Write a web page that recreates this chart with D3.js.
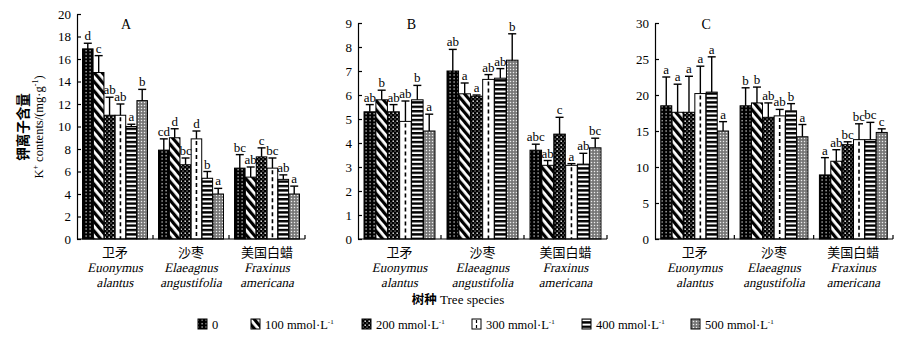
<!DOCTYPE html>
<html>
<head>
<meta charset="utf-8">
<script src="https://cdn.jsdelivr.net/npm/d3@7"></script>
<style>
  body { margin: 0; background: #fff; }
  svg { display: block; }
  text { font-family: "Liberation Serif", "DejaVu Serif", serif; fill: #000; }
  .cn { font-family: "Noto Sans CJK SC", sans-serif; }
</style>
</head>
<body>
<div id="chart"></div>
<script>
// K+ contents of three tree species under six NaCl treatments
const categories = ["卫矛", "沙枣", "美国白蜡"];
const latinNames = [["Euonymus", "alantus"], ["Elaeagnus", "angustifolia"], ["Fraxinus", "americana"]];
const treatments = ["0", "100", "200", "300", "400", "500"];

// panel A (rows = species, cols = treatments)
const aMeans = [[16.9, 14.8, 11.0, 11.0, 10.0, 12.3], [7.9, 9.0, 6.6, 8.9, 5.4, 4.0], [6.3, 5.5, 7.3, 6.3, 5.3, 4.0]];
const aSE = [[0.5, 1.5, 1.6, 1.0, 0.2, 1.0], [1.0, 0.8, 0.6, 0.7, 0.6, 0.5], [1.2, 0.9, 0.8, 0.9, 0.4, 0.7]];
const aLetters = [["d", "c", "ab", "ab", "a", "b"], ["cd", "d", "bc", "d", "b", "a"], ["bc", "ab", "c", "bc", "ab", "a"]];

// panel B
const bMeans = [[5.3, 5.8, 5.3, 4.9, 5.8, 4.5], [7.0, 6.05, 5.95, 6.65, 6.7, 7.45], [3.7, 3.07, 4.37, 3.07, 3.12, 3.8]];
const bSE = [[0.3, 0.4, 0.3, 0.85, 0.6, 0.7], [0.9, 0.45, 0.05, 0.2, 0.4, 1.1], [0.25, 0.2, 0.7, 0.07, 0.45, 0.4]];
const bLetters = [["ab", "b", "ab", "ab", "b", "a"], ["ab", "a", "a", "ab", "ab", "b"], ["abc", "ab", "c", "a", "ab", "bc"]];

// panel C
const cMeans = [[18.5, 17.6, 17.6, 20.2, 20.4, 15.0], [18.5, 18.9, 16.9, 17.1, 17.8, 14.2], [8.9, 10.8, 13.1, 13.8, 13.8, 14.8]];
const cSE = [[4.0, 3.9, 5.0, 3.8, 4.9, 1.3], [2.5, 2.2, 2.0, 0.9, 1.0, 1.7], [2.4, 1.6, 0.4, 2.2, 2.4, 0.5]];
const cLetters = [["a", "a", "a", "a", "a", "a"], ["b", "b", "ab", "ab", "b", "a"], ["a", "ab", "bc", "bc", "bc", "c"]];

const yTicksA = d3.range(0, 21, 2);
const yTicksB = d3.range(0, 10, 1);
const yTicksC = d3.range(0, 31, 5);

const panels = [
  { name: "A", means: aMeans, se: aSE, letters: aLetters, ticks: yTicksA, left: 77, right: 305, top: 14 },
  { name: "B", means: bMeans, se: bSE, letters: bLetters, ticks: yTicksB, left: 358, right: 607, top: 23 },
  { name: "C", means: cMeans, se: cSE, letters: cLetters, ticks: yTicksC, left: 655, right: 893, top: 23 }
];
const bottom = 239;

const svg = d3.select("#chart").append("svg")
  .attr("width", 915).attr("height", 339);

// fill patterns, one per treatment
const defs = svg.append("defs");
const p0 = defs.append("pattern").attr("id", "pat0").attr("patternUnits", "userSpaceOnUse").attr("width", 4).attr("height", 3.5);
p0.append("rect").attr("width", 4).attr("height", 3.5).attr("fill", "#000");
p0.append("rect").attr("x", 1.5).attr("y", 1).attr("width", 1.2).attr("height", 1.2).attr("fill", "#fff");

const p1 = defs.append("pattern").attr("id", "pat1").attr("patternUnits", "userSpaceOnUse")
  .attr("width", 6).attr("height", 6).attr("patternTransform", "rotate(-40)");
p1.append("rect").attr("width", 6).attr("height", 6).attr("fill", "#fff");
p1.append("rect").attr("width", 3.2).attr("height", 6).attr("fill", "#000");

const p2 = defs.append("pattern").attr("id", "pat2").attr("patternUnits", "userSpaceOnUse").attr("width", 4).attr("height", 4);
p2.append("rect").attr("width", 4).attr("height", 4).attr("fill", "#000");
p2.append("rect").attr("x", 0.5).attr("y", 0.5).attr("width", 1.4).attr("height", 1.4).attr("fill", "#fff");
p2.append("rect").attr("x", 2.5).attr("y", 2.5).attr("width", 1.1).attr("height", 1.1).attr("fill", "#bbb");

const p3 = defs.append("pattern").attr("id", "pat3").attr("patternUnits", "userSpaceOnUse").attr("width", 4).attr("height", 4);
p3.append("rect").attr("width", 4).attr("height", 4).attr("fill", "#fff");

const p4 = defs.append("pattern").attr("id", "pat4").attr("patternUnits", "userSpaceOnUse").attr("width", 4).attr("height", 4.4);
p4.append("rect").attr("width", 4).attr("height", 4.4).attr("fill", "#fff");
p4.append("rect").attr("y", 0).attr("width", 4).attr("height", 2.4).attr("fill", "#000");

const p5 = defs.append("pattern").attr("id", "pat5").attr("patternUnits", "userSpaceOnUse").attr("width", 3).attr("height", 3);
p5.append("rect").attr("width", 3).attr("height", 3).attr("fill", "#8a8a8a");
p5.append("rect").attr("x", 0).attr("y", 0).attr("width", 1).attr("height", 1).attr("fill", "#eee");
p5.append("rect").attr("x", 1.5).attr("y", 1.5).attr("width", 1).attr("height", 1).attr("fill", "#444");

const fills = treatments.map((t, i) => `url(#pat${i})`);

panels.forEach(p => {
  const g = svg.append("g");
  const x0 = d3.scaleBand().domain(categories).range([p.left, p.right]).paddingInner(0.145).paddingOuter(0.0725);
  const x1 = d3.scaleBand().domain(treatments).range([0, x0.bandwidth()]).paddingInner(0.03);
  const y = d3.scaleLinear().domain([0, d3.max(p.ticks)]).range([bottom, p.top]);

  const rows = categories.flatMap((c, ci) => treatments.map((t, ti) => ({
    cat: c, t, ti, v: p.means[ci][ti], se: p.se[ci][ti], letter: p.letters[ci][ti]
  })));

  // bars
  g.selectAll(".bar").data(rows).join("rect")
    .attr("x", d => x0(d.cat) + x1(d.t))
    .attr("y", d => y(d.v))
    .attr("width", x1.bandwidth())
    .attr("height", d => bottom - y(d.v))
    .attr("fill", d => fills[d.ti])
    .attr("stroke", "#000").attr("stroke-width", 1);

  // dashed centre line for the 300 mmol bars
  g.selectAll(".dash").data(rows.filter(d => d.t === "300")).join("line")
    .attr("x1", d => x0(d.cat) + x1(d.t) + x1.bandwidth() / 2)
    .attr("x2", d => x0(d.cat) + x1(d.t) + x1.bandwidth() / 2)
    .attr("y1", d => y(d.v) + 2).attr("y2", bottom)
    .attr("stroke", "#000").attr("stroke-width", 1.6).attr("stroke-dasharray", "4,3");

  // error bars (upper only)
  const cx = d => x0(d.cat) + x1(d.t) + x1.bandwidth() / 2;
  g.selectAll(".err").data(rows).join("line")
    .attr("x1", cx).attr("x2", cx)
    .attr("y1", d => y(d.v)).attr("y2", d => y(d.v + d.se))
    .attr("stroke", "#000").attr("stroke-width", 1.4);
  g.selectAll(".cap").data(rows).join("line")
    .attr("x1", d => cx(d) - 4).attr("x2", d => cx(d) + 4)
    .attr("y1", d => y(d.v + d.se)).attr("y2", d => y(d.v + d.se))
    .attr("stroke", "#000").attr("stroke-width", 1.4);

  // significance letters
  g.selectAll(".sig").data(rows).join("text")
    .attr("x", cx)
    .attr("y", d => y(d.v + d.se) - 3)
    .attr("text-anchor", "middle")
    .attr("font-size", 13)
    .text(d => d.letter);

  // y axis with inward ticks
  g.append("g")
    .attr("transform", `translate(${p.left},0)`)
    .call(d3.axisLeft(y).tickValues(p.ticks).tickSizeInner(-4).tickSizeOuter(0).tickPadding(6))
    .call(a => a.selectAll("text").attr("font-size", 13).attr("font-family", "Liberation Serif"))
    .call(a => a.selectAll("line, path").attr("stroke", "#000").attr("stroke-width", 1.2));

  // x axis baseline with upward ticks at group boundaries
  g.append("line").attr("x1", p.left).attr("x2", p.right).attr("y1", bottom).attr("y2", bottom)
    .attr("stroke", "#000").attr("stroke-width", 1.2);
  const step = x0.step();
  g.selectAll(".xtick").data(d3.range(1, categories.length + 1)).join("line")
    .attr("x1", i => p.left + i * step).attr("x2", i => p.left + i * step)
    .attr("y1", bottom).attr("y2", bottom - 4)
    .attr("stroke", "#000").attr("stroke-width", 1.2);

  // category labels (latin names slanted by hand)
  categories.forEach((c, ci) => {
    const mx = x0(c) + x0.bandwidth() / 2;
    g.append("text").attr("class", "cn").attr("x", mx).attr("y", 257)
      .attr("text-anchor", "middle").attr("font-size", 13).text(c);
    latinNames[ci].forEach((w, li) => {
      const ly = 272 + li * 15;
      g.append("g").attr("transform", `translate(${mx},${ly}) skewX(-13)`)
        .append("text").attr("text-anchor", "middle").attr("font-size", 13)
        .attr("font-family", "Liberation Serif").text(w);
    });
  });

  // panel letter
  g.append("text").attr("x", p.left + (p.right - p.left) * 0.215).attr("y", 29)
    .attr("text-anchor", "middle").attr("font-size", 14).text(p.name);
});

// y axis title (panel A only)
const yt = svg.append("g").attr("transform", "translate(24,127) rotate(-90)");
yt.append("text").attr("class", "cn").attr("text-anchor", "middle").attr("y", 4)
  .attr("font-size", 13.5).attr("font-weight", "bold").text("钾离子含量");
const yt2 = yt.append("text").attr("text-anchor", "middle").attr("y", 19).attr("font-size", 12.5);
yt2.append("tspan").text("K");
yt2.append("tspan").attr("dy", -5).attr("font-size", 8).text("+");
yt2.append("tspan").attr("dy", 5).text(" contents/(mg·g");
yt2.append("tspan").attr("dy", -5).attr("font-size", 8).text("-1");
yt2.append("tspan").attr("dy", 5).text(")");

// x axis title
const xt = svg.append("text").attr("x", 458).attr("y", 304).attr("text-anchor", "middle").attr("font-size", 13);
xt.append("tspan").attr("class", "cn").attr("font-weight", "bold").attr("font-size", 12.5).text("树种");
xt.append("tspan").text(" Tree species");

// legend
const legendX = d3.scaleOrdinal().domain(treatments).range([198, 251, 362, 472, 582, 691]);
const lg = svg.append("g");
treatments.forEach((t, i) => {
  const lx = legendX(t);
  lg.append("rect").attr("x", lx).attr("y", 319).attr("width", 9).attr("height", 10)
    .attr("fill", fills[i]).attr("stroke", "#000").attr("stroke-width", 1);
  if (t === "300") {
    lg.append("line").attr("x1", lx + 4.5).attr("x2", lx + 4.5).attr("y1", 320).attr("y2", 329)
      .attr("stroke", "#000").attr("stroke-width", 1.2).attr("stroke-dasharray", "3,2");
  }
  const tx = lg.append("text").attr("x", lx + 14).attr("y", 329).attr("font-size", 12.5);
  if (t === "0") {
    tx.text("0");
  } else {
    tx.append("tspan").text(`${t} mmol·L`);
    tx.append("tspan").attr("dy", -5).attr("font-size", 7).text("-1");
  }
});
</script>
</body>
</html>
